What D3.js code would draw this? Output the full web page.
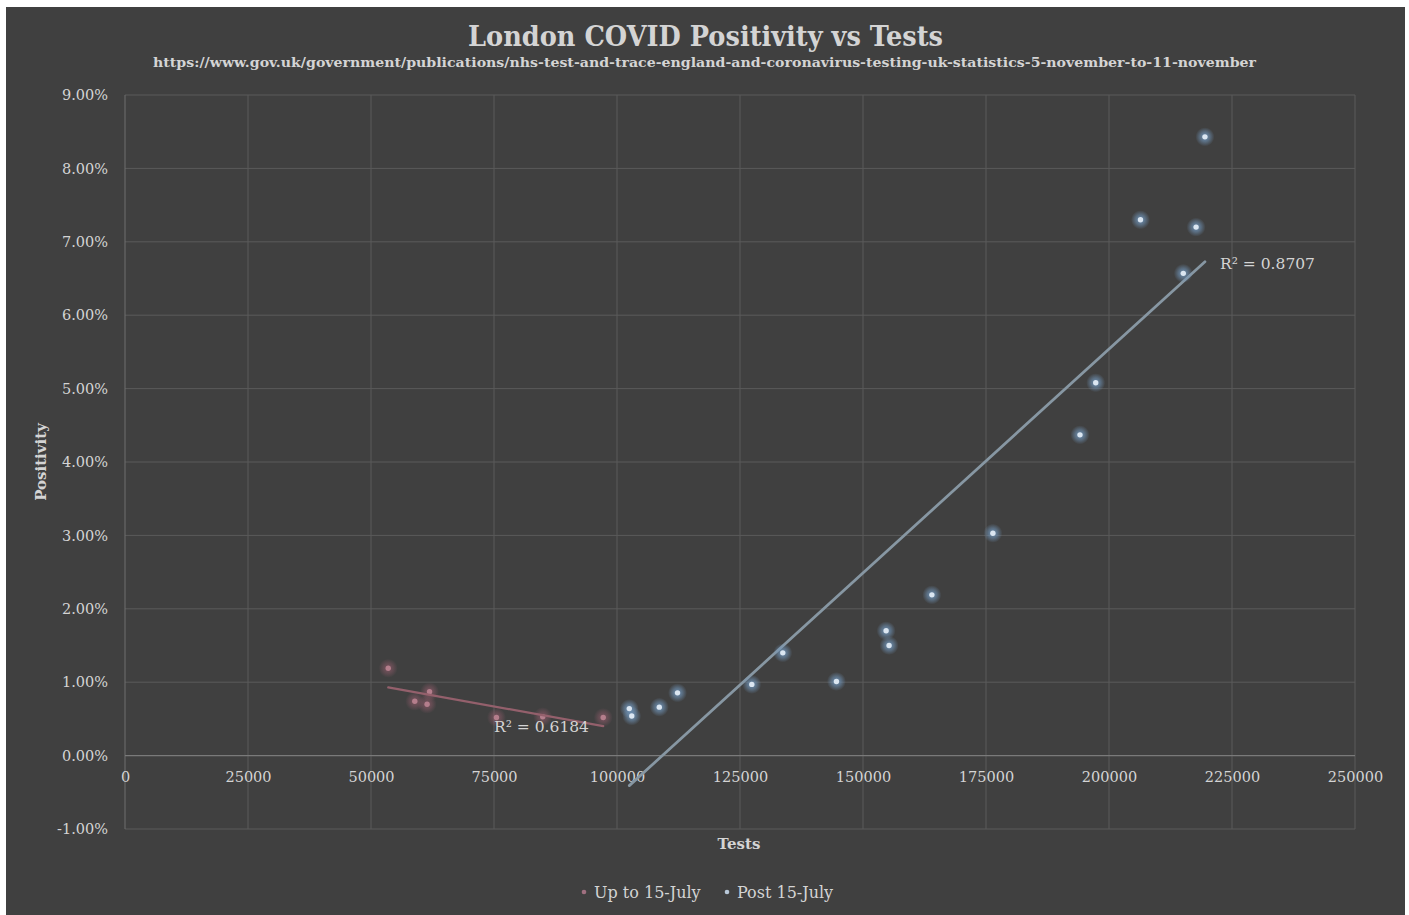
<!DOCTYPE html>
<html>
<head>
<meta charset="utf-8">
<script src="https://cdn.jsdelivr.net/npm/d3@7"></script>
<style>
  html, body { margin: 0; padding: 0; background: #ffffff; }
  svg { display: block; }
</style>
</head>
<body>
<svg id="chart" width="1409" height="915"></svg>
<script>
// ---- Data ----
const upTests = [53500, 58900, 61400, 61900, 75500, 84900, 97200];
const upPositivity = [0.0119, 0.0074, 0.0070, 0.0087, 0.0052, 0.0053, 0.0052];

const postTests = [102500, 103000, 108600, 112300, 127400, 133700, 144600, 154700, 155300,
                   164000, 176400, 194100, 197300, 206400, 215100, 217700, 219500];
const postPositivity = [0.0064, 0.0054, 0.0066, 0.00855, 0.0097, 0.0140, 0.0101, 0.0170, 0.0150,
                        0.0219, 0.0303, 0.0437, 0.0508, 0.0730, 0.0657, 0.0720, 0.0843];

const xTicks = [0, 25000, 50000, 75000, 100000, 125000, 150000, 175000, 200000, 225000, 250000];
const yTicks = [-0.01, 0, 0.01, 0.02, 0.03, 0.04, 0.05, 0.06, 0.07, 0.08, 0.09];
const seriesNames = ["Up to 15-July", "Post 15-July"];
const r2Labels = ["R\u00B2 = 0.6184", "R\u00B2 = 0.8707"];

const titleText = "London COVID Positivity vs Tests";
const subtitleText = "https://www.gov.uk/government/publications/nhs-test-and-trace-england-and-coronavirus-testing-uk-statistics-5-november-to-11-november";

// ---- Layout ----
const svg = d3.select("#chart");
const FONT = "'DejaVu Serif', 'Liberation Serif', serif";
const textColor = "#d4d4d4";

svg.append("rect").attr("x", 6).attr("y", 7).attr("width", 1399).attr("height", 908).attr("fill", "#404040");

const x = d3.scaleLinear().domain([0, 250000]).range([125, 1355]);
const y = d3.scaleLinear().domain([-0.01, 0.09]).range([829, 95]);

// defs: glow gradients
const defs = svg.append("defs");
function glow(id, color, op) {
  const g = defs.append("radialGradient").attr("id", id);
  g.append("stop").attr("offset", "0%").attr("stop-color", color).attr("stop-opacity", op);
  g.append("stop").attr("offset", "50%").attr("stop-color", color).attr("stop-opacity", op * 0.55);
  g.append("stop").attr("offset", "100%").attr("stop-color", color).attr("stop-opacity", 0);
}
glow("glowBlue", "#7399bf", 0.95);
glow("glowPink", "#8e5a69", 0.8);

// gridlines
const grid = svg.append("g");
grid.selectAll("line.v").data(xTicks.filter(d => d > 0)).join("line")
  .attr("x1", d => x(d)).attr("x2", d => x(d)).attr("y1", y(0.09)).attr("y2", y(-0.01))
  .attr("stroke", "#5a5a5a").attr("stroke-width", 1);
grid.selectAll("line.h").data(yTicks.filter(d => d !== 0)).join("line")
  .attr("x1", x(0)).attr("x2", x(250000)).attr("y1", d => y(d)).attr("y2", d => y(d))
  .attr("stroke", "#5a5a5a").attr("stroke-width", 1);

// axes lines
svg.append("line").attr("x1", x(0)).attr("x2", x(0)).attr("y1", y(0.09)).attr("y2", y(-0.01))
  .attr("stroke", "#6e6e6e").attr("stroke-width", 1);
svg.append("line").attr("x1", x(0)).attr("x2", x(250000)).attr("y1", y(0)).attr("y2", y(0))
  .attr("stroke", "#7a7a7a").attr("stroke-width", 1.2);

// y axis tick labels
const pct = d3.format(".2%");
const yAxis = d3.axisLeft(y).tickValues(yTicks).tickFormat(d => pct(d).replace("\u2212", "-")).tickSize(0).tickPadding(17);
const yg = svg.append("g").attr("transform", `translate(${x(0)},0)`).call(yAxis);
yg.select(".domain").remove();
yg.selectAll("text").attr("fill", textColor).attr("font-family", FONT).attr("font-size", 14.5);

// x axis tick labels (drawn at 0% line)
const xAxis = d3.axisBottom(x).tickValues(xTicks).tickFormat(d3.format("d")).tickSize(0).tickPadding(16);
const xg = svg.append("g").attr("transform", `translate(0,${y(0)})`).call(xAxis);
xg.select(".domain").remove();
xg.selectAll("text").attr("fill", textColor).attr("font-family", FONT).attr("font-size", 14.5);

// regression
function linreg(xs, ys) {
  const n = xs.length;
  const mx = d3.mean(xs), my = d3.mean(ys);
  let sxy = 0, sxx = 0;
  for (let i = 0; i < n; i++) { sxy += (xs[i] - mx) * (ys[i] - my); sxx += (xs[i] - mx) ** 2; }
  const m = sxy / sxx;
  return { m, b: my - m * mx, x0: d3.min(xs), x1: d3.max(xs) };
}
const regUp = linreg(upTests, upPositivity);
const regPost = linreg(postTests, postPositivity);

svg.append("line")
  .attr("x1", x(regPost.x0)).attr("y1", y(regPost.m * regPost.x0 + regPost.b))
  .attr("x2", x(regPost.x1)).attr("y2", y(regPost.m * regPost.x1 + regPost.b))
  .attr("stroke", "#8797a3").attr("stroke-width", 2.75).attr("stroke-linecap", "round");

// points
function drawPoints(xs, ys, gid, core) {
  const g = svg.append("g");
  const pts = xs.map((d, i) => [d, ys[i]]);
  g.selectAll("circle.h").data(pts).join("circle")
    .attr("cx", d => x(d[0])).attr("cy", d => y(d[1])).attr("r", 9.5).attr("fill", `url(#${gid})`);
  g.selectAll("circle.c").data(pts).join("circle")
    .attr("cx", d => x(d[0])).attr("cy", d => y(d[1])).attr("r", 2.7).attr("fill", core);
}
drawPoints(upTests, upPositivity, "glowPink", "#b47e8c");
drawPoints(postTests, postPositivity, "glowBlue", "#dbe6f1");

svg.append("line")
  .attr("x1", x(regUp.x0)).attr("y1", y(regUp.m * regUp.x0 + regUp.b))
  .attr("x2", x(regUp.x1)).attr("y2", y(regUp.m * regUp.x1 + regUp.b))
  .attr("stroke", "#94606c").attr("stroke-width", 2.2).attr("stroke-linecap", "round");

// R² labels
svg.append("text").attr("x", 494).attr("y", 732).text(r2Labels[0])
  .attr("fill", textColor).attr("font-family", FONT).attr("font-size", 15.5);
svg.append("text").attr("x", 1220).attr("y", 269).text(r2Labels[1])
  .attr("fill", textColor).attr("font-family", FONT).attr("font-size", 15.5);

// titles
svg.append("text").attr("x", 468).attr("y", 46).text(titleText)
  .attr("textLength", 475).attr("lengthAdjust", "spacingAndGlyphs")
  .attr("fill", textColor).attr("font-family", FONT).attr("font-weight", "bold").attr("font-size", 27);
svg.append("text").attr("x", 153).attr("y", 67).text(subtitleText)
  .attr("textLength", 1103).attr("lengthAdjust", "spacingAndGlyphs")
  .attr("fill", textColor).attr("font-family", FONT).attr("font-weight", "bold").attr("font-size", 13.5);

// axis titles
svg.append("text").attr("x", 739).attr("y", 849).attr("text-anchor", "middle").text("Tests")
  .attr("fill", textColor).attr("font-family", FONT).attr("font-weight", "bold").attr("font-size", 15);
svg.append("text").attr("transform", "translate(46,462) rotate(-90)").attr("text-anchor", "middle").text("Positivity")
  .attr("fill", textColor).attr("font-family", FONT).attr("font-weight", "bold").attr("font-size", 15);

// legend
const legend = svg.append("g");
const legColors = ["#a07080", "#b8c8d8"];
const legX = [584, 727];
seriesNames.forEach((nm, i) => {
  legend.append("circle").attr("cx", legX[i]).attr("cy", 892).attr("r", 2.3).attr("fill", legColors[i]);
  legend.append("text").attr("x", legX[i] + 10).attr("y", 898).text(nm)
    .attr("fill", textColor).attr("font-family", FONT).attr("font-size", 16);
});
</script>
</body>
</html>
